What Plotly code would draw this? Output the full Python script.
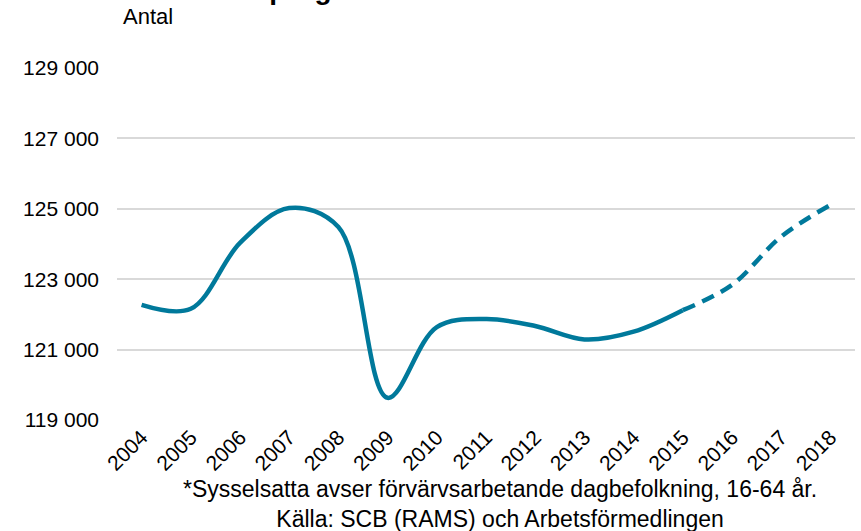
import plotly.graph_objects as go

# Data
ar = ["2004", "2005", "2006", "2007", "2008", "2009", "2010", "2011",
      "2012", "2013", "2014", "2015", "2016", "2017", "2018"]
utfall = [122270, 122160, 124030, 125020, 124480, 119630, 121640, 121870,
          121670, 121290, 121510, 122120]
prognos_ar = ["2015", "2016", "2017", "2018"]
prognos = [122120, 122840, 124210, 125110]

FARG = "#00799B"
FONT = "Liberation Sans, Arial, sans-serif"

fig = go.Figure()

fig.add_trace(go.Scatter(
    x=ar[:len(utfall)], y=utfall, mode="lines",
    line=dict(color=FARG, width=4.5, shape="spline", smoothing=1),
    showlegend=False, hoverinfo="x+y"
))

fig.add_trace(go.Scatter(
    x=prognos_ar, y=prognos, mode="lines",
    line=dict(color=FARG, width=4.5, shape="spline", smoothing=1, dash="13px,8px"),
    showlegend=False, hoverinfo="x+y"
))

fig.update_layout(
    width=861, height=531,
    margin=dict(l=117, r=6, t=68, b=111),
    plot_bgcolor="white", paper_bgcolor="white",
    separators=", ",
    font=dict(family=FONT, size=20, color="black"),
    xaxis=dict(
        type="category", categoryorder="array", categoryarray=ar,
        range=[-0.5, 14.5], showgrid=False, zeroline=False, showline=False,
        tickangle=-45, tickfont=dict(size=21), ticks="", automargin=False,
    ),
    yaxis=dict(
        range=[119000, 129000], dtick=2000, tick0=119000, tickformat=",d",
        showgrid=True, gridcolor="#D9D9D9", gridwidth=1.5,
        zeroline=False, showline=False, ticks="", automargin=False,
        ticklabelstandoff=17, tickfont=dict(size=21),
    ),
    annotations=[
        dict(text="<b>Utfall och prognos</b>", xref="paper", yref="paper",
             x=0.020, y=1.222, xanchor="left", yanchor="middle",
             showarrow=False, font=dict(size=28)),
        dict(text="Antal", xref="paper", yref="paper",
             x=0.006, y=1.145, xanchor="left", yanchor="middle",
             showarrow=False, font=dict(size=22)),
        dict(text="*Sysselsatta avser förvärvsarbetande dagbefolkning, 16-64 år.<br>"
                  "Källa: SCB (RAMS) och Arbetsförmedlingen",
             xref="paper", yref="paper", x=0.519, y=-0.238,
             xanchor="center", yanchor="middle", align="center",
             showarrow=False, font=dict(size=23)),
    ],
)

# sidans standardmarginal (8px) tas bort så att figuren börjar i hörnet
fig.write_html("out.html", config={"displayModeBar": False},
               post_script="document.body.style.margin='0';")
